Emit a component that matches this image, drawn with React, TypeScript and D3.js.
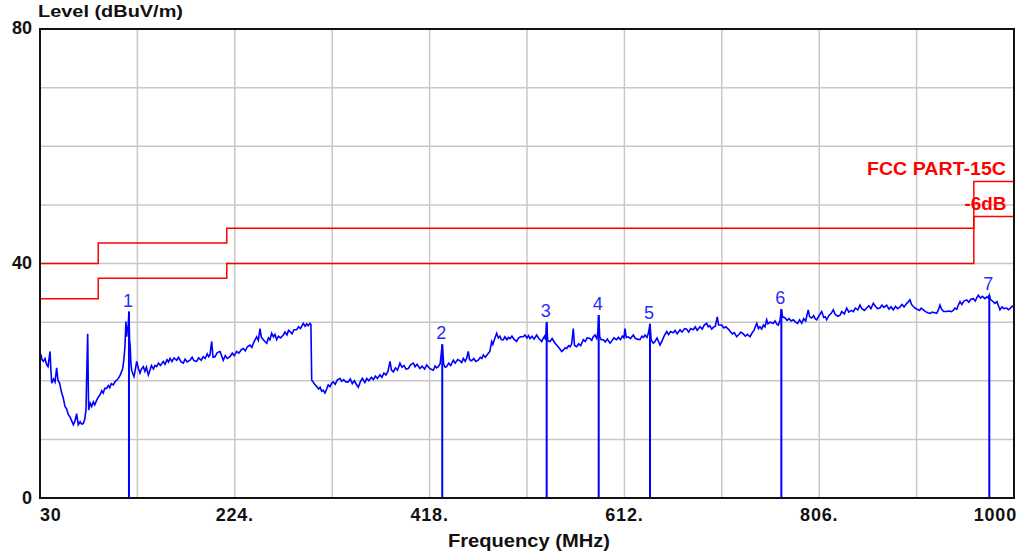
import React from 'react';
import * as d3 from 'd3';

// axis ticks
const yTickValues = [0, 40, 80];
const xTickValues = [30, 224, 418, 612, 806, 1000];
const xTickLabels = ['30', '224.', '418.', '612.', '806.', '1000'];

// FCC part 15C limit and the -6dB margin line (step after each freq)
const limitFreqs = [30, 88, 216, 960, 1000];
const limitLevels = [40, 43.5, 46, 54, 54];
const marginLevels = [34, 37.5, 40, 48, 48];

// marker peaks
const markerFreqs = [118.6, 430.6, 534.6, 586.4, 637.5, 768.3, 975.4];
const markerLevels = [31.8, 26.2, 30.0, 31.2, 29.7, 32.2, 34.6];

// measured trace [MHz, dBuV/m]
const trace: [number, number][] = [
  [30, 24.6], [31, 24.4], [32, 23.6], [33.3, 23.3], [35, 23.8], [36.7, 22.7], [38, 22.4], [40, 25.0], [40.8, 22.0], [41.7, 19.6],
  [43.5, 20.3], [45, 19.8], [46.6, 22.2], [47.9, 20.1], [49.5, 19.6], [51.6, 17.9], [53, 17.2], [54.9, 15.6], [56.5, 15.2], [58.2, 14.2],
  [60, 13.8], [61.5, 13.2], [63.2, 12.5], [64.8, 13.1], [66.5, 14.4], [68.1, 12.5], [70, 13.0], [71.5, 12.6], [73.1, 12.7], [74.5, 13.4],
  [75.8, 15.0], [76.5, 21.0], [77.5, 28.0], [78.2, 17.5], [78.5, 15.0], [80, 16.2], [81.5, 15.6], [83.1, 16.4], [84.5, 15.9], [86.5, 16.7],
  [88, 17.2], [89.8, 17.6], [91.5, 18.3], [93, 17.9], [94.5, 18.7], [96.4, 18.7], [98, 19.2], [99.5, 18.8], [101, 19.5], [103, 19.3],
  [105, 19.9], [106.5, 20.1], [108, 20.4], [110, 21.0], [112.4, 22.1], [113.5, 23.6], [114.6, 25.8], [115.6, 30.1], [116.3, 27.5], [116.9, 28.7],
  [117.9, 29.5], [118.6, 31.8], [119.2, 27.0], [119.9, 25.8], [120.5, 23.0], [121.3, 21.8], [122.5, 21.2], [123.6, 20.7], [125, 22.0], [126.3, 23.3],
  [128, 22.1], [129.6, 21.3], [131, 22.0], [132.9, 22.4], [134.5, 21.6], [136, 22.3], [137.9, 21.0], [139.5, 21.8], [141, 22.6], [143, 22.0],
  [144.5, 22.6], [146.2, 22.4], [148, 23.0], [150, 22.6], [152.8, 23.3], [154.5, 22.8], [156.5, 23.6], [158, 23.2], [159.5, 23.8], [161.5, 23.3],
  [163.5, 23.9], [166.1, 23.5], [168, 24.0], [170.5, 23.2], [172.7, 23.0], [174.5, 23.7], [176.5, 23.2], [179.4, 23.5], [181.5, 24.0], [183.5, 23.4],
  [186, 23.3], [188, 23.9], [190.5, 23.5], [192.6, 24.1], [194.5, 23.8], [196.5, 24.6], [198, 24.1], [199.3, 24.4], [201, 26.7], [202.3, 24.0],
  [204.3, 24.1], [206.5, 24.8], [209.3, 25.0], [211, 24.2], [212.5, 23.5], [214.5, 24.3], [216.5, 23.8], [219.2, 24.1], [221.5, 24.7], [223.5, 24.3],
  [225.9, 25.0], [228, 24.7], [230.5, 25.3], [232.5, 25.5], [234.5, 25.1], [236.5, 25.8], [239.1, 26.1], [241, 25.7], [243, 26.6], [245.8, 27.5],
  [247.5, 26.9], [249.1, 28.9], [250.5, 27.4], [252.4, 27.0], [254, 26.7], [255.8, 26.4], [257.5, 27.3], [259, 27.0], [260.7, 28.1], [262.5, 27.5],
  [264, 27.9], [265.7, 27.0], [267.5, 27.6], [269.5, 27.3], [272.3, 27.8], [274, 28.3], [276, 27.8], [277.5, 28.6], [279, 28.4], [281, 28.0],
  [283, 28.7], [285.6, 28.7], [287.5, 29.2], [289.5, 28.9], [292.2, 29.8], [294, 29.3], [295.6, 29.7], [297, 29.4], [298.9, 29.8], [299.8, 29.6],
  [300.6, 20.1], [302, 19.8], [304, 19.3], [305.6, 19.0], [307.5, 18.6], [309, 18.9], [310.5, 18.2], [312, 18.4], [313.8, 17.9], [315.5, 18.6],
  [317, 19.3], [318.8, 19.0], [320.5, 19.6], [322, 19.8], [324, 19.4], [326, 20.1], [328.8, 20.4], [330.5, 19.9], [332.5, 20.2], [334.5, 19.8],
  [337, 19.8], [339, 20.3], [341, 19.5], [343, 20.0], [345, 19.4], [347, 18.9], [349, 19.8], [351, 20.4], [353.5, 19.7], [355.4, 20.4],
  [357.5, 20.0], [360, 20.6], [362, 20.2], [364, 20.8], [366, 20.4], [368.6, 21.0], [370.5, 20.6], [372.5, 21.3], [374.5, 21.0], [376.5, 21.6],
  [378.6, 23.3], [380, 21.8], [381.9, 21.5], [384, 22.2], [386, 21.8], [388.5, 23.0], [390.5, 22.3], [392.5, 22.6], [394.5, 22.0], [396.8, 22.1],
  [399, 22.7], [401.8, 23.0], [403.5, 22.4], [405.5, 22.8], [408.4, 22.1], [410.5, 22.5], [413, 22.0], [415.1, 22.7], [417, 22.3], [419, 22.0],
  [421.7, 21.8], [423.5, 22.5], [425, 22.2], [426.7, 22.4], [428.5, 22.9], [430.6, 26.2], [432, 22.8], [433.5, 22.3], [435, 22.4], [437, 23.0],
  [439, 22.6], [441.6, 23.5], [443.5, 23.0], [446, 23.6], [448.3, 23.4], [450, 23.1], [451.6, 23.8], [453.5, 23.3], [455, 23.9], [456.5, 25.0],
  [457.8, 23.6], [459.9, 23.4], [462, 23.8], [464, 23.3], [466.5, 23.5], [468.5, 24.0], [470, 23.8], [471.5, 24.4], [473.5, 24.0], [476.5, 24.7],
  [478, 25.0], [479.8, 26.7], [481, 26.2], [482.5, 27.0], [484.8, 28.1], [486.5, 27.3], [488, 27.6], [489.5, 27.0], [491.4, 27.0], [493, 27.5],
  [495, 27.0], [496.5, 27.4], [498.1, 27.2], [500, 27.6], [502, 27.1], [504.7, 26.7], [506.5, 27.3], [508.5, 27.5], [511.3, 27.5], [513, 27.8],
  [515, 27.3], [516.5, 27.7], [518, 27.2], [520, 27.6], [522, 27.1], [524.6, 27.8], [526.5, 27.3], [528, 27.0], [529.6, 26.7], [531, 27.2],
  [532.5, 27.6], [533.5, 27.0], [534.6, 30.0], [535.6, 26.8], [537.9, 26.7], [540, 27.2], [542.9, 26.4], [545, 26.0], [547, 25.6], [549.6, 25.0],
  [551.5, 25.3], [553, 25.6], [554.5, 25.5], [556.5, 26.0], [558, 25.8], [559.5, 26.3], [561.1, 28.9], [562.3, 26.0], [564.5, 25.8], [566.5, 26.3],
  [568.5, 26.0], [571.1, 27.0], [573, 26.7], [575, 27.3], [577.7, 27.2], [579.5, 26.9], [581, 27.5], [582.7, 27.8], [584.5, 27.2], [585.6, 28.3],
  [586.4, 31.2], [587.4, 27.5], [589, 27.0], [591, 27.0], [593, 26.6], [595, 27.1], [597.7, 26.4], [599.5, 26.8], [601.5, 27.3], [604.3, 27.0],
  [606, 27.4], [608, 27.0], [610, 27.6], [611.5, 27.3], [612.6, 28.9], [613.8, 27.4], [615.9, 27.5], [618, 27.2], [620.9, 27.8], [622.5, 27.3],
  [624.5, 27.1], [627.5, 27.0], [629.5, 27.6], [631, 27.4], [632.5, 27.8], [634.5, 27.4], [636, 28.2], [637.5, 29.7], [638.6, 27.0], [640.8, 26.4],
  [642.5, 26.7], [644.5, 27.3], [647.5, 26.1], [649.5, 26.8], [651.5, 27.6], [654.1, 28.4], [656, 27.9], [658, 28.4], [660.7, 28.2], [662.5, 28.6],
  [664.5, 28.0], [667.4, 28.7], [669.5, 28.3], [672, 28.9], [674, 28.8], [676, 28.3], [678, 28.9], [680.6, 28.7], [682.5, 29.2], [684.5, 28.6],
  [687.3, 29.2], [689.5, 28.8], [691.5, 29.5], [693.9, 29.8], [695.5, 29.2], [697, 29.4], [698.9, 28.8], [700.5, 29.1], [702.5, 29.3], [704.5, 30.9],
  [705.8, 29.5], [708.9, 29.5], [711, 29.0], [713, 29.2], [715.5, 28.8], [717.5, 28.4], [719.5, 28.0], [721.5, 28.2], [723.8, 27.5], [726, 27.9],
  [728, 28.3], [730.4, 28.0], [732.5, 27.6], [734.5, 27.9], [737.1, 27.5], [739, 28.1], [741, 28.6], [743.8, 29.8], [745.5, 28.9], [747, 29.2],
  [748.7, 28.8], [750.5, 29.5], [752, 29.2], [753.7, 30.4], [755, 29.7], [757, 30.0], [760.3, 29.8], [762, 30.2], [764, 29.6], [765.3, 29.5],
  [767, 30.3], [768.3, 32.2], [769.5, 30.9], [772, 30.7], [774, 30.3], [776, 30.6], [778, 30.2], [780.2, 30.4], [782.5, 30.0], [784.5, 29.8],
  [786.5, 30.4], [788.6, 29.8], [790.5, 30.6], [792.5, 30.2], [795.1, 32.1], [796.5, 30.9], [798.5, 30.7], [800.5, 31.1], [802, 30.6], [803.5, 30.4],
  [805.5, 31.0], [808.5, 31.8], [810.5, 30.8], [812, 30.9], [813.5, 30.4], [815.5, 31.1], [818, 31.5], [820, 32.1], [822, 31.3], [824.5, 31.0],
  [826.7, 31.2], [828.5, 31.8], [831, 31.4], [833.4, 32.4], [835.5, 31.7], [838, 32.0], [840, 31.8], [842, 32.4], [844.5, 32.1], [846.6, 32.9],
  [848.5, 32.3], [851, 32.0], [853.3, 32.4], [855.5, 32.8], [857.5, 32.3], [859.9, 33.2], [862, 32.7], [864, 32.3], [866.5, 32.4], [868.5, 32.9],
  [870.5, 32.5], [873.2, 32.9], [875.5, 32.2], [877.5, 32.6], [879.8, 32.1], [882, 32.7], [884, 32.3], [886.5, 32.6], [888.5, 33.0], [890.5, 32.6],
  [893.2, 33.2], [895, 33.5], [896.4, 33.8], [898, 33.0], [899.5, 32.7], [901.4, 32.4], [903.5, 32.2], [906, 32.0], [907.5, 32.4], [909.7, 32.1],
  [912, 31.8], [914, 31.6], [916.4, 31.5], [918.5, 31.7], [921, 31.6], [923, 31.5], [924.5, 32.0], [926.3, 32.9], [928, 32.2], [930, 31.8],
  [933, 31.8], [935, 31.9], [937.5, 31.8], [939.5, 32.0], [941.2, 32.4], [943, 32.2], [944.8, 33.0], [946.2, 33.5], [948, 33.0], [950, 33.6],
  [952.9, 33.8], [955, 33.4], [957, 33.9], [959.5, 34.0], [961.5, 33.6], [963, 34.2], [964.5, 34.6], [966.5, 34.1], [968.5, 34.4], [971.1, 34.0],
  [973, 34.3], [974.5, 34.1], [975.4, 34.6], [976.5, 33.9], [978.5, 33.6], [981, 33.2], [983, 33.5], [984.5, 32.8], [986, 32.1], [988, 32.6],
  [990, 32.3], [992.7, 32.4], [994.5, 32.1], [996, 32.3], [997.7, 32.6], [999, 32.8],
];

const W = 1035;
const H = 553;
const font = '"Liberation Sans", Arial, sans-serif';

export default function App() {
  const x = d3.scaleLinear().domain([30, 1000]).range([40, 1014]);
  const y = d3.scaleLinear().domain([0, 80]).range([498, 29]);

  const xGrid = d3.range(30, 1001, 97);
  const yGrid = d3.range(0, 81, 10);

  const traceLine = d3.line<[number, number]>()
    .x(d => x(d[0]))
    .y(d => y(d[1]));

  const stepLine = d3.line<[number, number]>()
    .x(d => x(d[0]))
    .y(d => y(d[1]))
    .curve(d3.curveStepAfter);

  const limitPts = limitFreqs.map((f, i) => [f, limitLevels[i]] as [number, number]);
  const marginPts = limitFreqs.map((f, i) => [f, marginLevels[i]] as [number, number]);

  const [x0, x1] = x.range();
  const [y0, y1] = y.range();

  return (
    <svg width={W} height={H} style={{ position: 'absolute', left: 0, top: 0, background: '#fff' }}>
      {/* grid */}
      {xGrid.map(g => (
        <line key={'gx' + g} x1={x(g)} x2={x(g)} y1={y1} y2={y0} stroke="#c8c8c8" strokeWidth={1.5} />
      ))}
      {yGrid.map(g => (
        <line key={'gy' + g} x1={x0} x2={x1} y1={y(g)} y2={y(g)} stroke="#c8c8c8" strokeWidth={1.5} />
      ))}

      {/* limit lines */}
      <path d={stepLine(limitPts) || ''} fill="none" stroke="#ff0000" strokeWidth={1.5} />
      <path d={stepLine(marginPts) || ''} fill="none" stroke="#ff0000" strokeWidth={1.5} />

      {/* trace */}
      <path d={traceLine(trace) || ''} fill="none" stroke="#0000ff" strokeWidth={1.6} />

      {/* markers */}
      {markerFreqs.map((f, i) => (
        <g key={'m' + i}>
          <line x1={x(f)} x2={x(f)} y1={y(0)} y2={y(markerLevels[i])} stroke="#0000ff" strokeWidth={2} />
          <text x={x(f) - 1} y={y(markerLevels[i]) - 5} textAnchor="middle" fontFamily={font} fontSize={18} fill="#2a2aff">
            {i + 1}
          </text>
        </g>
      ))}

      {/* frame */}
      <rect x={x0} y={y1} width={x1 - x0} height={y0 - y1} fill="none" stroke="#111" strokeWidth={2} />

      {/* limit labels */}
      <text x={1006} y={175} textAnchor="end" fontFamily={font} fontWeight="bold" fontSize={18} fill="#ff0000"
        textLength={139} lengthAdjust="spacingAndGlyphs">FCC PART-15C</text>
      <text x={1006.5} y={210} textAnchor="end" fontFamily={font} fontWeight="bold" fontSize={18} fill="#ff0000"
        textLength={42} lengthAdjust="spacingAndGlyphs">-6dB</text>

      {/* y ticks */}
      {yTickValues.map(v => (
        <text key={'yt' + v} x={32} y={v === 80 ? y(v) + 4.5 : y(v) + 5.5} textAnchor="end" fontFamily={font} fontWeight="bold" fontSize={18} fill="#111">
          {v}
        </text>
      ))}

      {/* x ticks */}
      {xTickValues.map((v, i) => (
        <text key={'xt' + v} x={i === 0 ? x(v) : i === xTickValues.length - 1 ? x(v) + 3 : x(v)} y={521}
          textAnchor={i === 0 ? 'start' : i === xTickValues.length - 1 ? 'end' : 'middle'}
          fontFamily={font} fontWeight="bold" fontSize={18} fill="#111" letterSpacing={0.8}>
          {xTickLabels[i]}
        </text>
      ))}

      {/* axis titles */}
      <text x={38} y={17} fontFamily={font} fontWeight="bold" fontSize={16} fill="#111"
        textLength={145} lengthAdjust="spacingAndGlyphs">Level (dBuV/m)</text>
      <text x={448} y={546.5} fontFamily={font} fontWeight="bold" fontSize={18} fill="#111"
        textLength={162} lengthAdjust="spacingAndGlyphs">Frequency (MHz)</text>
    </svg>
  );
}
